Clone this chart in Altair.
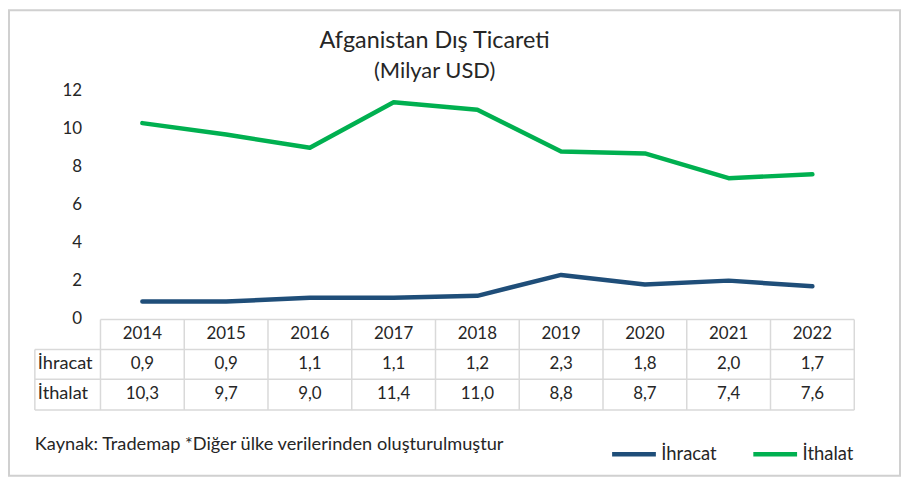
import altair as alt
import pandas as pd

years = [2014, 2015, 2016, 2017, 2018, 2019, 2020, 2021, 2022]
ihracat = [0.9, 0.9, 1.1, 1.1, 1.2, 2.3, 1.8, 2.0, 1.7]
ithalat = [10.3, 9.7, 9.0, 11.4, 11.0, 8.8, 8.7, 7.4, 7.6]
series_names = ["İhracat", "İthalat"]
series_colors = ["#1F4E79", "#00B050"]
y_ticks = [0, 2, 4, 6, 8, 10, 12]
title_text = "Afganistan Dış Ticareti"
subtitle_text = "(Milyar USD)"
source_text = "Kaynak: Trademap *Diğer ülke verilerinden oluşturulmuştur"

FONT = "Lato"
TXT = "#262626"
GRID = "#d9d9d9"

rows = []
for name, vals in zip(series_names, [ihracat, ithalat]):
    for y, v in zip(years, vals):
        rows.append({"year": y, "series": name, "value": v})
df = pd.DataFrame(rows)
years_df = pd.DataFrame({"year": years})
one = pd.DataFrame({"t": [title_text], "s": [subtitle_text], "k": [source_text]})

W, H = 758, 229
xscale = alt.Scale(domain=[years[0] - 0.5, years[-1] + 0.5], nice=False, zero=False)
yscale = alt.Scale(domain=[0, 12], nice=False)


def X(field):
    return alt.X(field, scale=xscale, axis=None)


base = alt.Chart(df)

lines = base.mark_line(strokeWidth=4.5, strokeCap="round", strokeJoin="round").encode(
    x=X("year:Q"),
    y=alt.Y("value:Q", scale=yscale,
            axis=alt.Axis(values=y_ticks, domain=False, ticks=False, tickSize=0, grid=False,
                          labelPadding=19, labelFontSize=17, labelFont=FONT, labelColor=TXT,
                          title=None)),
    color=alt.Color("series:N",
                    scale=alt.Scale(domain=series_names, range=series_colors),
                    legend=alt.Legend(orient="none", legendX=512, legendY=341, direction="horizontal",
                                      title=None, symbolType="stroke", symbolSize=1936,
                                      symbolStrokeWidth=4.5, labelFontSize=18.5, labelFont=FONT,
                                      labelColor=TXT, labelOffset=3, columnPadding=27, padding=0)),
)

row_header_left = -66


def hrule(ypix, x0):
    return alt.Chart(one).mark_rule(color=GRID, strokeWidth=1.5).encode(
        x=alt.value(x0), x2=alt.value(W), y=alt.value(ypix))


grid_layers = [hrule(230, 0), hrule(260, row_header_left), hrule(290, row_header_left),
               hrule(321, row_header_left)]
left_rule = alt.Chart(one).mark_rule(color=GRID, strokeWidth=1.5).encode(
    x=alt.value(row_header_left), y=alt.value(260), y2=alt.value(321))
vrules = alt.Chart(years_df).transform_calculate(b="datum.year - 0.5").mark_rule(
    color=GRID, strokeWidth=1.5).encode(
    x=X("b:Q"), y=alt.value(230), y2=alt.value(321))
vrule_end = alt.Chart(years_df).transform_calculate(b="datum.year + 0.5").transform_filter(
    f"datum.year == {years[-1]}").mark_rule(color=GRID, strokeWidth=1.5).encode(
    x=X("b:Q"), y=alt.value(230), y2=alt.value(321))

text_style = dict(font=FONT, fontSize=17, color=TXT, baseline="middle")
header = alt.Chart(years_df).mark_text(**text_style).encode(
    x=X("year:Q"), y=alt.value(245), text="year:N")
fmt = "replace(format(datum.value, '.1f'), '.', ',')"
row_layers = []
for name, ypix in zip(series_names, [275, 305]):
    row_layers.append(
        base.transform_filter(alt.datum.series == name).transform_calculate(lab=fmt).mark_text(
            **text_style).encode(x=X("year:Q"), y=alt.value(ypix), text="lab:N"))
    row_layers.append(
        alt.Chart(pd.DataFrame({"series": [name]})).mark_text(
            align="left", font=FONT, fontSize=18.3, color=TXT, baseline="middle").encode(
            x=alt.value(row_header_left + 3), y=alt.value(ypix), text="series:N"))

title = alt.Chart(one).mark_text(font=FONT, fontSize=23.5, color=TXT, baseline="middle").encode(
    x=alt.value(336), y=alt.value(-50), text="t:N")
subtitle = alt.Chart(one).mark_text(font=FONT, fontSize=22, color=TXT, baseline="middle").encode(
    x=alt.value(336), y=alt.value(-20), text="s:N")
source = alt.Chart(one).mark_text(font=FONT, fontSize=18.3, color=TXT, baseline="middle", align="left").encode(
    x=alt.value(row_header_left), y=alt.value(356), text="k:N")
frame = alt.Chart(one).mark_rect(fill="transparent", stroke="#d0d0d0", strokeWidth=2).encode(
    x=alt.value(-92), x2=alt.value(804), y=alt.value(-81), y2=alt.value(387))

chart = alt.layer(
    frame, *grid_layers, left_rule, vrules, vrule_end, header, *row_layers,
    title, subtitle, source, lines
).properties(
    width=W, height=H,
    background="white",
    autosize=alt.AutoSizeParams(type="none"),
    padding={"left": 93, "top": 82, "right": 47, "bottom": 159},
).configure_view(stroke=None)

chart.save("out.html", embed_options={"renderer": "svg", "actions": False})
